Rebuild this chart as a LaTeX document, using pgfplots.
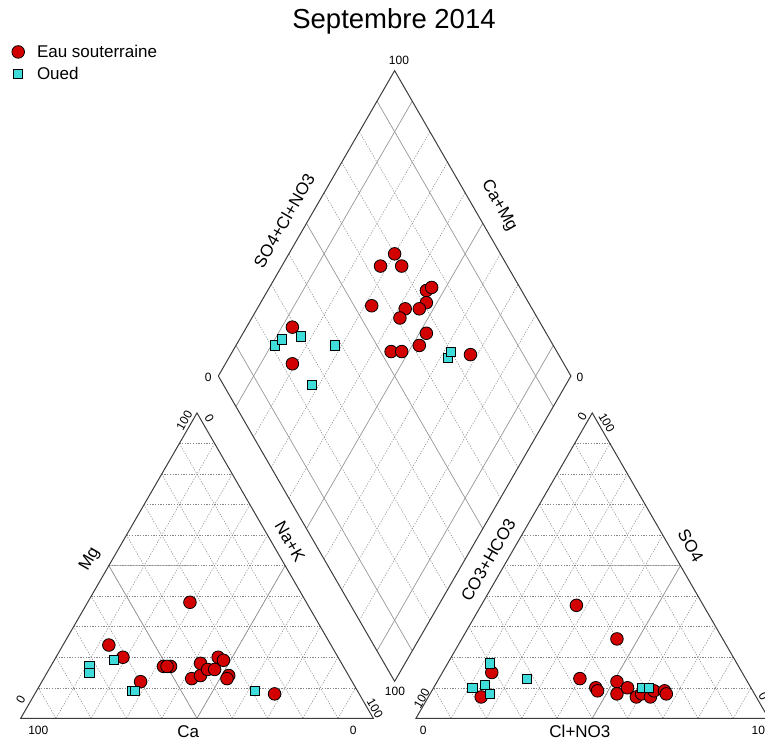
\documentclass[border=0pt]{standalone}
\usepackage{fontspec}
\setmainfont{Liberation Sans}
\usepackage{pgfplots}
\pgfplotsset{compat=1.18}
\usepackage{pgfplotstable}
\definecolor{gwred}{RGB}{210,0,0}
\definecolor{oued}{RGB}{64,220,220}
\definecolor{edgec}{RGB}{60,60,60}
\definecolor{gridc}{RGB}{135,135,135}
\definecolor{solidc}{RGB}{150,150,150}
\tikzset{
  dotgrid/.style={gridc, line width=0.5pt, dash pattern=on 1.3pt off 1.4pt},
  solidgrid/.style={solidc, line width=0.7pt},
  edge/.style={edgec, line width=1pt, line join=miter},
}

% Cation triangle (percent)
\pgfplotstableread{
Ca Mg NaK
33 38 29
63 24 13
61 20 19
51 17 32
49 17 34
50 17 33
60 12 28
40 18 42
45 13 42
42 14 44
39 16 45
37 16 47
34 20 46
33 19 48
34 14 52
35 13 52
24 8 68
}\catgw
\pgfplotstableread{
Ca Mg NaK
72 17 11
73 15 12
64 19 17
64 9 27
63 9 28
29 9 62
}\catoued
% Anion triangle (percent)
\pgfplotstableread{
HCO3 SO4 Cl
36 37 27
30 26 44
71 15 14
78 7 15
47 13 40
44 10 46
44 9 47
37 12 51
39 8 53
35 10 55
34 7 59
32 8 60
30 7 63
28 9 63
25 9 66
25 8 67
}\angw
\pgfplotstableread{
HCO3 SO4 Cl
70 18 12
79 10 11
75 11 14
75 8 17
62 13 25
31 10 59
29 10 61
}\anoued
% Diamond (percent)
\pgfplotstableread{
SO4Cl CaMg
70 70
64 72
70 66
73 55
75 54
71 53
64 58
68 54
55 68
61 58
29 87
66 48
62 48
53 55
56 52
75 32
23 81
}\digw
\pgfplotstableread{
SO4Cl CaMg
21 89
24 88
30 83
38 72
68 38
70 38
25 72
}\dioued

\begin{document}
\begin{tikzpicture}
\begin{axis}[
  x=352.6pt, y=352.6pt,
  xmin=-0.0587, xmax=2.1109, ymin=-0.0530, ymax=2.0372,
  axis lines=none, clip=false,
  legend cell align=left,
  legend style={at={(axis cs:-0.034,1.920)}, anchor=north west, draw=none, fill=none,
    font=\fontsize{17}{20}\selectfont, row sep=5pt, column sep=11pt, nodes={inner sep=1.5pt}},
  gw/.style={only marks, mark=*, mark size=6.3pt, mark options={fill=gwred, draw=black, line width=0.8pt}},
  ou/.style={only marks, mark=square*, mark size=4.6pt, mark options={fill=oued, draw=black, line width=0.8pt}},
]
% ---- grids of the triangles
\pgfplotsinvokeforeach{0.1,0.2,0.3,0.4,0.5,0.6,0.7,0.8,0.9}{
  \draw[dotgrid] ({#1/2},{#1*0.8660254}) -- ({1-#1/2},{#1*0.8660254});
  \draw[dotgrid] (#1,0) -- ({#1+(1-#1)/2},{(1-#1)*0.8660254});
  \draw[dotgrid] ({1-#1},0) -- ({(1-#1)/2},{(1-#1)*0.8660254});
  \draw[dotgrid] ({1.121+#1/2},{#1*0.8660254}) -- ({2.121-#1/2},{#1*0.8660254});
  \draw[dotgrid] ({1.121+#1},0) -- ({1.121+#1+(1-#1)/2},{(1-#1)*0.8660254});
  \draw[dotgrid] ({2.121-#1},0) -- ({1.121+(1-#1)/2},{(1-#1)*0.8660254});
}
% ---- grid of the diamond
\pgfplotsinvokeforeach{0.2,0.3,0.4,0.6,0.7,0.8}{
  \draw[dotgrid] ({1.0605+0.5*#1},{0.1048+0.8660254*#1}) -- ({0.5605+0.5*#1},{0.9708+0.8660254*#1});
  \draw[dotgrid] ({1.0605-0.5*#1},{0.1048+0.8660254*#1}) -- ({1.5605-0.5*#1},{0.9708+0.8660254*#1});
}
\pgfplotsinvokeforeach{0.1,0.5,0.9}{
  \draw[solidgrid] ({1.0605+0.5*#1},{0.1048+0.8660254*#1}) -- ({0.5605+0.5*#1},{0.9708+0.8660254*#1});
  \draw[solidgrid] ({1.0605-0.5*#1},{0.1048+0.8660254*#1}) -- ({1.5605-0.5*#1},{0.9708+0.8660254*#1});
}
\draw[solidgrid] (0.5,0) -- (0.25,0.4330127) -- (0.5,0.4330127);
\draw[solidgrid] (0.5,0) -- (0.75,0.4330127);
\draw[solidgrid] (1.621,0) -- (1.871,0.4330127) -- (1.621,0.4330127);
% ---- outlines
\draw[edge] (0,0) -- (1,0) -- (0.5,0.8660254) -- cycle;
\draw[edge] (1.121,0) -- (2.121,0) -- (1.621,0.8660254) -- cycle;
\draw[edge] (1.0605,0.1048) -- (1.5605,0.9708) -- (1.0605,1.8368) -- (0.5605,0.9708) -- cycle;

% ---- data
\addplot[gw] table[x expr={(\thisrow{NaK}+0.5*\thisrow{Mg})/100}, y expr={0.8660254*\thisrow{Mg}/100}] {\catgw};
\addlegendentry{Eau souterraine}
\addplot[ou] table[x expr={(\thisrow{NaK}+0.5*\thisrow{Mg})/100}, y expr={0.8660254*\thisrow{Mg}/100}] {\catoued};
\addlegendentry{Oued}
\addplot[gw, forget plot] table[x expr={1.121+(\thisrow{Cl}+0.5*\thisrow{SO4})/100}, y expr={0.8660254*\thisrow{SO4}/100}] {\angw};
\addplot[ou, forget plot] table[x expr={1.121+(\thisrow{Cl}+0.5*\thisrow{SO4})/100}, y expr={0.8660254*\thisrow{SO4}/100}] {\anoued};
\addplot[gw, forget plot] table[x expr={1.0605+0.5*(\thisrow{SO4Cl}-\thisrow{CaMg})/100}, y expr={0.1048+0.8660254*(\thisrow{SO4Cl}+\thisrow{CaMg})/100}] {\digw};
\addplot[ou, forget plot] table[x expr={1.0605+0.5*(\thisrow{SO4Cl}-\thisrow{CaMg})/100}, y expr={0.1048+0.8660254*(\thisrow{SO4Cl}+\thisrow{CaMg})/100}] {\dioued};

% ---- title and labels
\node[anchor=base, font=\fontsize{27.5}{31}\selectfont] at (1.0587,1.9569) {Septembre 2014};
\begin{scope}[every node/.style={font=\fontsize{17}{20}\selectfont}]
\node[anchor=base] at (0.4753,-0.0530) {Ca};
\node[anchor=base] at (1.5860,-0.0530) {Cl+NO3};
\node[rotate=60] at (0.1965,0.4509) {Mg};
\node[rotate=-60] at (0.7637,0.5009) {Na+K};
\node[rotate=60] at (1.3261,0.4489) {CO3+HCO3};
\node[rotate=-60] at (1.9002,0.4895) {SO4};
\node[rotate=60] at (0.7468,1.4112) {SO4+Cl+NO3};
\node[rotate=-60] at (1.3565,1.4538) {Ca+Mg};
\end{scope}
\begin{scope}[every node/.style={font=\fontsize{12}{14}\selectfont, inner sep=0pt}]
\node at (0.0499,-0.0332) {100};
\node at (0.9433,-0.0332) {0};
\node at (1.1418,-0.0332) {0};
\node at (2.1015,-0.0332) {100};
\node[rotate=60] at (0.0,0.0539) {0};
\node[rotate=60] at (0.4640,0.8440) {100};
\node[rotate=-60] at (0.5349,0.8508) {0};
\node[rotate=-60] at (1.0048,0.0284) {100};
\node[rotate=60] at (1.1373,0.0567) {100};
\node[rotate=60] at (1.5927,0.8554) {0};
\node[rotate=-60] at (1.6619,0.8383) {100};
\node[rotate=-60] at (2.1061,0.0613) {0};
\node at (0.5320,0.9671) {0};
\node at (1.0729,1.8650) {100};
\node at (1.5862,0.9680) {0};
\node at (1.0615,0.0754) {100};
\end{scope}
\end{axis}
\pgfresetboundingbox
\path[use as bounding box] (current axis.south west) rectangle (current axis.north east);
\end{tikzpicture}
\end{document}
